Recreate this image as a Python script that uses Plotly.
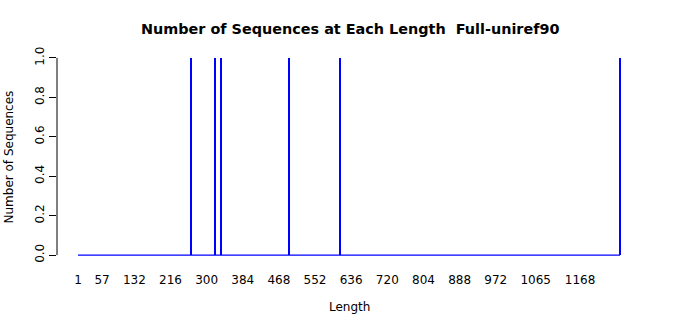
import plotly.graph_objects as go

# Data
lengths = [264, 319, 333, 491, 610, 1261]      # lengths that have sequences
counts = [1, 1, 1, 1, 1, 1]                    # number of sequences at each length
min_length = 1
max_length = 1261
tick_labels = [1, 57, 132, 216, 300, 384, 468, 552, 636, 720, 804, 888, 972, 1065, 1168]
y_ticks = [0.0, 0.2, 0.4, 0.6, 0.8, 1.0]

title_text = "Number of Sequences at Each Length  Full-uniref90"
FONT = "DejaVu Sans, Liberation Sans, sans-serif"
BLUE = "#0000FF"

fig = go.Figure()

# zero-count bars drawn as baseline (R barplot borders)
fig.add_trace(go.Scatter(
    x=[min_length, max_length], y=[0, 0], mode="lines",
    line=dict(color=BLUE, width=1.2), hoverinfo="skip", showlegend=False))

fig.add_trace(go.Bar(
    x=lengths, y=counts, width=2.0,
    marker=dict(color=BLUE, line=dict(width=0)), showlegend=False))

fig.update_layout(
    width=700, height=315,
    margin=dict(l=57, r=59, t=50, b=52),
    paper_bgcolor="white", plot_bgcolor="white",
    font=dict(family=FONT, size=12, color="black"),
    xaxis=dict(
        range=[min_length - 48.8, min_length + 1308.7],
        tickmode="array", tickvals=tick_labels,
        ticktext=[str(t) for t in tick_labels],
        showgrid=False, zeroline=False, showline=False,
        ticks="outside", ticklen=6, tickcolor="rgba(0,0,0,0)",
        tickfont=dict(family=FONT, size=12, color="black"),
    ),
    yaxis=dict(
        range=[-0.04, 1.04],
        tickmode="array", tickvals=y_ticks,
        ticktext=[f"{v:.1f}" for v in y_ticks],
        tickangle=-90,
        showgrid=False, zeroline=False, showline=False,
        ticks="outside", ticklen=7, tickcolor="black", tickwidth=1,
        tickfont=dict(family=FONT, size=12, color="black"),
    ),
    shapes=[dict(type="line", xref="paper", yref="y", x0=0, x1=0,
                 y0=y_ticks[0], y1=y_ticks[-1],
                 line=dict(color="black", width=1))],
    annotations=[
        dict(text="<b>" + title_text + "</b>", xref="paper", yref="paper",
             x=0.5017, y=1.0986, xanchor="center", yanchor="middle",
             showarrow=False, font=dict(family=FONT, size=14.4, color="black")),
        dict(text="Length", xref="paper", yref="paper",
             x=0.5017, y=-0.2066, xanchor="center", yanchor="middle",
             showarrow=False, font=dict(family=FONT, size=12, color="black")),
        dict(text="Number of Sequences", xref="paper", yref="paper",
             x=-0.0822, y=0.5, xanchor="center", yanchor="middle", textangle=-90,
             showarrow=False, font=dict(family=FONT, size=12, color="black")),
    ],
    bargap=0,
)

fig.write_html("out.html")
